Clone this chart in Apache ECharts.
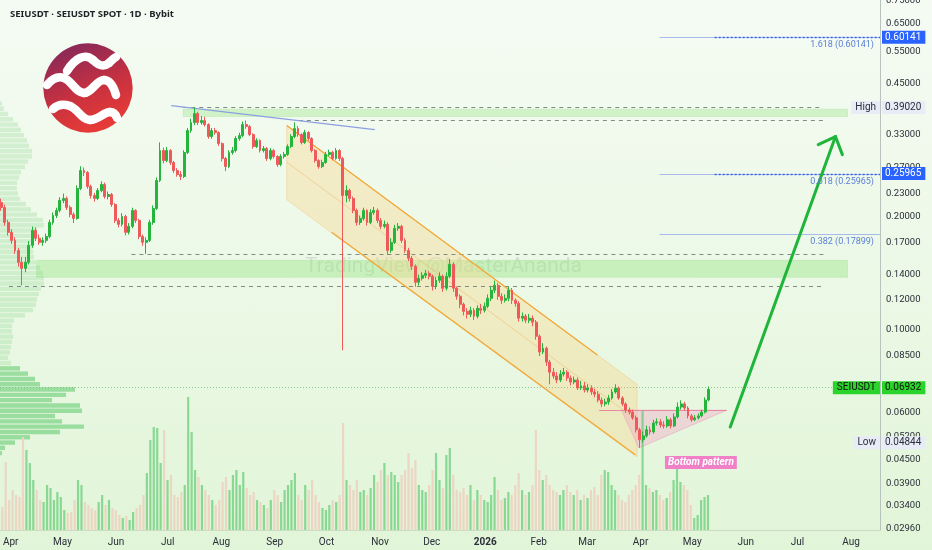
<!DOCTYPE html>
<html><head><meta charset="utf-8">
<script src="https://cdn.jsdelivr.net/npm/echarts@6/dist/echarts.min.js"></script>
<style>
html,body{margin:0;padding:0;}
#c{width:932px;height:550px;background:linear-gradient(180deg,#f5fbf3 0%,#edf9e8 45%,#e1f5d8 100%);}
</style>
</head><body><div id="c"></div>
<script>
// ---------------- DATA (2-day candles, SEIUSDT Bybit) ----------------
const FIRST_DATE = '2025-03-26';
const FIRST_OPEN = 0.2180;
const closes = [
0.2113,0.1928,0.1814,0.1727,0.1624,0.1510,0.1455,0.1510,0.1675,0.1836,
0.1749,0.1706,0.1727,0.1769,0.1928,0.2012,0.2075,0.2206,0.2233,0.2113,
0.2025,0.1976,0.2374,0.2650,0.2618,0.2403,0.2274,0.2233,0.2345,0.2433,
0.2260,0.2288,0.2152,0.1952,0.1905,0.2000,0.1814,0.1882,0.2075,0.1952,
0.1769,0.1706,0.1727,0.1928,0.2100,0.2493,0.2995,0.2817,0.2995,0.2783,
0.2650,0.2586,0.2555,0.2959,0.3385,0.3555,0.3756,0.3555,0.3599,0.3512,
0.3263,0.3385,0.3344,0.3126,0.2852,0.2715,0.2959,0.2995,0.3224,0.3283,
0.3512,0.3469,0.3303,0.3069,0.3184,0.2995,0.3031,0.2852,0.2995,0.2887,
0.2749,0.2887,0.2923,0.3069,0.3263,0.3427,0.3303,0.3146,0.3344,0.3224,
0.2995,0.2817,0.2715,0.2783,0.2923,0.2959,0.2852,0.2995,0.2852,0.2274,
0.2345,0.2233,0.2075,0.1928,0.1976,0.2075,0.1928,0.2050,0.2075,0.1952,
0.1882,0.1905,0.1624,0.1706,0.1859,0.1882,0.1727,0.1624,0.1547,0.1473,
0.1336,0.1369,0.1394,0.1411,0.1386,0.1303,0.1352,0.1386,0.1288,0.1386,
0.1491,0.1288,0.1226,0.1167,0.1118,0.1098,0.1125,0.1085,0.1139,0.1125,
0.1153,0.1211,0.1272,0.1311,0.1226,0.1196,0.1211,0.1272,0.1196,0.1174,
0.1072,0.1085,0.1059,0.1072,0.1046,0.0960,0.0871,0.0892,0.0819,0.0770,
0.0752,0.0734,0.0761,0.0770,0.0743,0.0725,0.0734,0.0699,0.0708,0.0690,
0.0699,0.0682,0.0673,0.0649,0.0634,0.0641,0.0657,0.0682,0.0699,0.0657,
0.0634,0.0611,0.0603,0.0582,0.0541,0.0509,0.0521,0.0541,0.0534,0.0564,
0.0568,0.0557,0.0554,0.0575,0.0554,0.0585,0.0622,0.0634,0.0618,0.0589,
0.0575,0.0582,0.0589,0.0603,0.0649,0.06932];
const highs = [
0.2230,0.2150,0.1960,0.1850,0.1760,0.1650,0.1560,0.1560,0.1720,0.1880,
0.1870,0.1790,0.1760,0.1800,0.1960,0.2050,0.2110,0.2250,0.2300,0.2260,
0.2140,0.2050,0.2420,0.2720,0.2700,0.2640,0.2430,0.2310,0.2380,0.2480,
0.2460,0.2330,0.2310,0.2170,0.1980,0.2040,0.2020,0.1920,0.2110,0.2090,
0.1970,0.1790,0.1760,0.1960,0.2140,0.2540,0.3150,0.3050,0.3060,0.3020,
0.2810,0.2690,0.2640,0.3000,0.3440,0.3640,0.3902,0.3800,0.3700,0.3680,
0.3540,0.3440,0.3440,0.3370,0.3150,0.2880,0.3000,0.3060,0.3270,0.3340,
0.3580,0.3600,0.3500,0.3330,0.3230,0.3210,0.3080,0.3060,0.3040,0.3020,
0.2910,0.2930,0.2970,0.3110,0.3310,0.3560,0.3480,0.3330,0.3400,0.3370,
0.3250,0.3020,0.2840,0.2830,0.2970,0.3010,0.2990,0.3040,0.3020,0.2880,
0.2420,0.2370,0.2260,0.2100,0.2010,0.2110,0.2090,0.2090,0.2120,0.2100,
0.1980,0.1950,0.1930,0.1750,0.1900,0.1920,0.1900,0.1750,0.1650,0.1570,
0.1490,0.1400,0.1420,0.1440,0.1430,0.1400,0.1380,0.1420,0.1400,0.1420,
0.1540,0.1510,0.1300,0.1240,0.1180,0.1140,0.1150,0.1140,0.1160,0.1170,
0.1180,0.1240,0.1300,0.1350,0.1330,0.1250,0.1240,0.1300,0.1290,0.1210,
0.1190,0.1110,0.1100,0.1100,0.1090,0.1060,0.0970,0.0920,0.0900,0.0830,
0.0790,0.0770,0.0780,0.0790,0.0780,0.0755,0.0750,0.0745,0.0730,0.0725,
0.0715,0.0710,0.0695,0.0685,0.0660,0.0655,0.0670,0.0695,0.0715,0.0705,
0.0665,0.0640,0.0620,0.0612,0.0590,0.0548,0.0535,0.0555,0.0552,0.0575,
0.0580,0.0578,0.0570,0.0588,0.0582,0.0598,0.0640,0.0648,0.0642,0.0625,
0.0596,0.0592,0.0598,0.0612,0.0660,0.0705];
const lows = [
0.2070,0.1890,0.1780,0.1690,0.1590,0.1470,0.1311,0.1420,0.1490,0.1650,
0.1720,0.1680,0.1670,0.1700,0.1750,0.1900,0.1980,0.2050,0.2170,0.2080,
0.1990,0.1920,0.1960,0.2350,0.2560,0.2370,0.2230,0.2190,0.2210,0.2320,
0.2230,0.2220,0.2120,0.1920,0.1870,0.1880,0.1780,0.1790,0.1860,0.1920,
0.1740,0.1670,0.1590,0.1710,0.1900,0.2080,0.2470,0.2770,0.2790,0.2740,
0.2610,0.2550,0.2500,0.2530,0.2930,0.3340,0.3500,0.3500,0.3510,0.3470,
0.3220,0.3220,0.3300,0.3080,0.2800,0.2640,0.2690,0.2920,0.2960,0.3180,
0.3250,0.3420,0.3270,0.3030,0.3040,0.2960,0.2960,0.2810,0.2820,0.2850,
0.2710,0.2720,0.2850,0.2900,0.3040,0.3230,0.3260,0.3110,0.3120,0.3180,
0.2960,0.2780,0.2680,0.2690,0.2760,0.2890,0.2820,0.2830,0.2810,0.0880,
0.2180,0.2190,0.2040,0.1890,0.1900,0.1950,0.1890,0.1910,0.2020,0.1920,
0.1850,0.1860,0.1580,0.1600,0.1690,0.1830,0.1700,0.1600,0.1520,0.1440,
0.1300,0.1310,0.1350,0.1370,0.1360,0.1270,0.1280,0.1330,0.1260,0.1270,
0.1370,0.1260,0.1200,0.1140,0.1090,0.1070,0.1080,0.1060,0.1070,0.1100,
0.1110,0.1140,0.1190,0.1250,0.1200,0.1170,0.1180,0.1190,0.1170,0.1150,
0.1050,0.1050,0.1040,0.1040,0.1020,0.0940,0.0850,0.0860,0.0800,0.0715,
0.0740,0.0720,0.0725,0.0750,0.0730,0.0710,0.0715,0.0690,0.0690,0.0680,
0.0680,0.0670,0.0660,0.0640,0.0622,0.0625,0.0630,0.0650,0.0675,0.0650,
0.0625,0.0600,0.0595,0.0575,0.0532,0.04844,0.0500,0.0515,0.0525,0.0528,
0.0555,0.0548,0.0545,0.0548,0.0545,0.0550,0.0580,0.0612,0.0608,0.0580,
0.0568,0.0570,0.0576,0.0584,0.0598,0.0644];
// relative volume per candle (read as bar heights)
const volumes = [
23,68,30,40,35,33,93,80,67,50, 40,30,28,45,42,30,38,33,20,17,
18,30,50,45,28,25,22,20,28,35, 25,30,22,20,15,12,14,10,18,22,
25,35,57,90,103,102,67,100,50,55, 35,33,38,45,133,98,60,53,45,40,
35,30,25,30,48,53,40,55,60,45, 58,42,35,38,30,28,25,22,30,40,
35,28,40,45,50,57,35,30,45,40, 50,35,28,22,20,25,30,28,35,107,
50,45,40,50,38,40,35,42,55,48, 60,67,55,58,55,48,55,60,77,62,
70,45,40,38,45,60,77,50,42,75, 82,55,40,38,42,35,45,30,40,35,
30,28,35,53,40,30,32,38,35,45, 57,40,35,38,45,100,60,50,55,45,
40,38,35,40,45,38,35,40,30,35, 32,40,43,35,55,60,58,45,40,35,
30,28,35,40,45,55,120,45,42,38, 40,35,30,32,38,50,62,48,45,40,
25,12,15,30,33,35];
// volume profile (visible range), price rows from top bin 19 downward (100 log bins)
const PROFILE_BINS = 100;
const PROFILE_FIRST_BIN = 19;
const PROFILE_VALUE_AREA_BIN = 69;
const profile = [2,4,8,13,18,21,24,27,29,32,32,28,25,21,19,17,17,18,20,26,
31,37,43,44,37,34,33,33,33,34,36,40,43,44,44,41,39,37,36,33,
25,14,12,12,13,12,11,10,8,11,20,28,35,40,75,66,52,80,82,55,
62,84,60,30,15,5,2];
const priceTicks = [0.75,0.65,0.55,0.45,0.33,0.27,0.23,0.20,0.17,0.14,0.12,0.10,0.085,0.06,0.052,0.045,0.039,0.034,0.0296];
const MONTHS = ['Jan','Feb','Mar','Apr','May','Jun','Jul','Aug','Sep','Oct','Nov','Dec'];
// annotations (date, price)
const axisTags = [
  {price:0.60141, text:'0.60141', bg:'#2962ff', fg:'#ffffff'},
  {price:0.39020, text:'0.39020', bg:'#e8ecf6', fg:'#2a2e39', side:'High', sideBg:'#e8ecf6', sideFg:'#2a2e39'},
  {price:0.25965, text:'0.25965', bg:'#2962ff', fg:'#ffffff'},
  {price:0.06932, text:'0.06932', bg:'#2bd42b', fg:'#111111', side:'SEIUSDT', sideBg:'#2bd42b', sideFg:'#111111'},
  {price:0.04844, text:'0.04844', bg:'#e8ecf6', fg:'#2a2e39', side:'Low', sideBg:'#e8ecf6', sideFg:'#2a2e39'}];
const fibLevels = [
  {ratio:'1.618', price:0.60141, from:'2026-04-12', dotFrom:'2026-05-14'},
  {ratio:'0.618', price:0.25965, from:'2026-04-12', dotFrom:'2026-05-14'},
  {ratio:'0.382', price:0.17899, from:'2026-04-12', dotFrom:null}];
const dashedLevels = [
  {price:0.3902, from:'2025-07-10', to:'2026-07-14'},
  {price:0.3599, from:'2025-09-15', to:'2026-07-16'},
  {price:0.1585, from:'2025-06-10', to:'2026-07-16'},
  {price:0.1303, from:'2025-03-31', to:'2026-07-15'}];
const zones = [
  {from:'2025-07-10', to:'2026-07-30', hi:0.386, lo:0.369},
  {from:'2025-04-16', to:'2026-07-30', hi:0.1528, lo:0.1377}];
const trendLine = [['2025-07-03',0.3945],['2025-10-29',0.3406]];
const channelUpper = [['2025-09-08',0.349],['2026-03-07',0.0855]];
const channelLower = [['2025-10-04',0.1814],['2026-03-29',0.0464]];
const channelMid = [['2025-09-08',0.2787],['2026-03-30',0.0574]];
const channelFill = [['2025-09-08',0.349],['2026-03-30',0.0715],['2026-03-30',0.0458],['2025-09-08',0.2214]];
const bottomTriangle = [['2026-03-21',0.0610],['2026-03-31',0.0484],['2026-05-21',0.0610]];
const bottomLine = [['2026-03-08',0.0610],['2026-05-21',0.0610]];
const arrowShaft = [['2026-05-23',0.0550],['2026-07-23',0.3262]];
const arrowWings = [['2026-07-13',0.3106],['2026-07-27',0.2921]];
const patternLabel = {at:['2026-05-06',0.0443], text:'Bottom pattern'};

// ---------------- BUILD ----------------
const DAY = 86400000;
const T = s => { const a = s.split('-').map(Number); return Date.UTC(a[0], a[1]-1, a[2]); };
const P = a => [T(a[0]), a[1]];
const X_MIN = T('2025-04-01') - 6.2*DAY, X_MAX = T('2025-04-01') + 503.8*DAY;
const Y_MIN = 0.02927, Y_MAX = 0.7535;
const UP = '#25b53d', DOWN = '#ee5a5a';

const times = closes.map((_, i) => T(FIRST_DATE) + (2*i + 0.5)*DAY);
const opens = closes.map((c, i) => i ? closes[i-1] : FIRST_OPEN);
const candleData = closes.map((c, i) => [times[i], opens[i], c, lows[i], highs[i]]);
const volData = volumes.map((v, i) => ({value:[times[i], v],
  itemStyle:{color: closes[i] >= opens[i] ? 'rgba(70,195,95,0.58)' : 'rgba(236,212,194,0.95)'}}));
const profileCats = Array.from({length:PROFILE_BINS}, (_, k) =>
  (Y_MAX*Math.pow(Y_MIN/Y_MAX, (k+0.5)/PROFILE_BINS)).toFixed(5));
const profileData = profileCats.map((_, k) => {
  const v = profile[k - PROFILE_FIRST_BIN];
  return {value: v || 0, itemStyle:{color: k >= PROFILE_VALUE_AREA_BIN ? 'rgba(90,200,105,0.55)' : 'rgba(125,208,128,0.26)'}};
});
const monthTicks = [];
for (let m = 0; m < 17; m++) monthTicks.push(Date.UTC(2025, 3 + m, 1));

const FONT = 'Roboto, "Liberation Sans", sans-serif';
const NOLINE = {color:'rgba(0,0,0,0)', width:0, type:'solid'};
const seg = (a, b, style, label) => [{coord:P(a), lineStyle:Object.assign({type:'solid'}, style), label: label || {show:false}}, {coord:P(b)}];

const mlData = [];
dashedLevels.forEach(d => mlData.push(seg([d.from, d.price], [d.to, d.price], {color:'#7d8c85', type:[4,4], width:1})));
mlData.push({yAxis:0.06932, lineStyle:{color:'rgba(70,160,90,0.55)', type:[1,2], width:1}, label:{show:false}});
fibLevels.forEach(f => {
  mlData.push([{coord:[T(f.from), f.price], lineStyle:{color:'#a9baec', width:1, type:'solid'},
    label:{show:true, position:'insideEndBottom', distance:[6,3], formatter:f.ratio + ' (' + f.price.toFixed(5) + ')', color:'#5a7fd6', fontSize:9, fontFamily:FONT}},
    {coord:[X_MAX, f.price]}]);
  if (f.dotFrom) mlData.push([{coord:[T(f.dotFrom), f.price], lineStyle:{color:'#2f5fe6', type:[2,2], width:1.4}, label:{show:false}}, {coord:[X_MAX, f.price]}]);
});
mlData.push(seg(trendLine[0], trendLine[1], {color:'#8d9fe2', width:1.2}));
mlData.push(seg(channelUpper[0], channelUpper[1], {color:'#f2a532', width:1.2}));
mlData.push(seg(channelLower[0], channelLower[1], {color:'#f2a532', width:1.2}));
mlData.push(seg(channelMid[0], channelMid[1], {color:'rgba(235,175,90,0.55)', width:0.8}));
mlData.push(seg(bottomLine[0], bottomLine[1], {color:'#e4899f', width:1}));
mlData.push(seg(arrowShaft[0], arrowShaft[1], {color:'#1fb53a', width:3, cap:'round'}));
arrowWings.forEach(w => mlData.push(seg(w, arrowShaft[1], {color:'#1fb53a', width:3, cap:'round'})));
axisTags.forEach(tag => {
  mlData.push({yAxis:tag.price, lineStyle:NOLINE, label:{show:true, position:'end', distance:2, formatter:tag.text,
    backgroundColor:tag.bg, color:tag.fg, padding:[2,4,1,3], fontSize:10, fontFamily:FONT}});
  if (tag.side) mlData.push({yAxis:tag.price, lineStyle:NOLINE, label:{show:true, position:'insideEnd', distance:0, formatter:tag.side,
    backgroundColor:tag.sideBg, color:tag.sideFg, padding:[2,4,1,4], fontSize:10, fontFamily:FONT}});
});

function polySeries(points, fill, stroke) {
  return {type:'custom', xAxisIndex:0, yAxisIndex:0, silent:true, z:2, clip:false, data:[P(points[0])],
    renderItem: (params, api) => ({type:'polygon', shape:{points: points.map(p => api.coord(P(p)))},
      style:{fill:fill, stroke:stroke, lineWidth:0.8}})};
}
// logo waves (decorative): cubic segments [x1,y1,cx1,cy1,cx2,cy2,x2,y2]
const logoWaves = [
  [-21,-17,-13,-30,-3,-35,5,-28], [5,-28,10,-23,15,-20,21,-25], [21,-25,24,-28,26,-30,28,-31],
  [-41,-3,-36,-9,-30,-12,-24,-10], [-24,-10,-16,-7,-12,5,-4,5], [-4,5,4,5,8,-8,16,-8], [16,-8,23,-8,26,0,28,7],
  [-35,21,-30,16,-24,16,-18,18], [-18,18,-10,21,-6,32,2,32], [2,32,10,32,16,24,22,24], [22,24,26,24,28,27,29,30]];
const waveEls = logoWaves.map(s => ({type:'bezierCurve',
  shape:{x1:s[0], y1:s[1], cpx1:s[2], cpy1:s[3], cpx2:s[4], cpy2:s[5], x2:s[6], y2:s[7]},
  style:{stroke:'#ffffff', lineWidth:8.5, fill:null, lineCap:'round'}}));

const option = {
  animation:false,
  backgroundColor:'transparent',
  textStyle:{fontFamily:FONT},
  title:{text:'SEIUSDT · SEIUSDT SPOT · 1D · Bybit', left:5, top:4,
    textStyle:{fontSize:9.5, fontWeight:'bold', color:'#1f2328', fontFamily:'"Noto Sans", sans-serif'}},
  grid:[
    {left:0, right:52, top:0, bottom:20, containLabel:false, outerBoundsMode:'none'},
    {left:0, right:52, top:380, bottom:20, containLabel:false, outerBoundsMode:'none'},
    {left:0, width:200, top:0, bottom:20, containLabel:false, outerBoundsMode:'none'}],
  xAxis:[
    {type:'time', gridIndex:0, min:X_MIN, max:X_MAX, axisLine:{show:false}, axisTick:{show:false}, splitLine:{show:false}, axisLabel:{show:false}},
    {type:'time', gridIndex:1, min:X_MIN, max:X_MAX, show:false},
    {type:'value', gridIndex:2, min:0, max:200, show:false},
    // date scale labels (same time range, on a value axis so month starts can be listed)
    {type:'value', gridIndex:0, min:X_MIN, max:X_MAX, position:'bottom',
     axisLine:{show:true, onZero:false, lineStyle:{color:'rgba(0,0,0,0.10)'}}, axisTick:{show:false}, splitLine:{show:false},
     axisLabel:{customValues:monthTicks, hideOverlap:false, color:'#2a2e39', fontSize:10, margin:7,
       formatter:v => { const d = new Date(v); return d.getUTCMonth() === 0 ? '{b|' + d.getUTCFullYear() + '}' : MONTHS[d.getUTCMonth()]; },
       rich:{b:{fontWeight:'bold', fontSize:10, color:'#2a2e39'}}}}],
  yAxis:[
    {type:'log', gridIndex:0, position:'right', min:Y_MIN, max:Y_MAX,
     axisLine:{show:true, lineStyle:{color:'#b9c3bd'}}, axisTick:{show:false}, splitLine:{show:false},
     axisLabel:{customValues:priceTicks, formatter:v => Number(v).toFixed(5), color:'#2a2e39', fontSize:9.5, margin:6, hideOverlap:false, showMaxLabel:true}},
    {type:'value', gridIndex:1, min:0, max:150, show:false},
    {type:'category', gridIndex:2, data:profileCats, inverse:true, show:false}],
  graphic:[
    {type:'group', x:88, y:88, z:1, silent:true, children:[
      {type:'circle', shape:{cx:0, cy:0, r:44.7}, style:{fill:{type:'linear', x:0.25, y:0, x2:0.65, y2:1,
        colorStops:[{offset:0, color:'#85285a'}, {offset:0.55, color:'#c8313f'}, {offset:1, color:'#ea3c36'}]}}}
    ].concat(waveEls)},
    {type:'text', left:305, top:256, z:1, silent:true,
      style:{text:'TradingView @MasterAnanda', font:'21px Roboto, sans-serif', fill:'rgba(120,135,128,0.22)'}}
  ],
  series:[
    {type:'bar', name:'profile', xAxisIndex:2, yAxisIndex:2, data:profileData, barWidth:4.4, silent:true, z:1},
    {type:'line', name:'zones', xAxisIndex:0, yAxisIndex:0, data:[], z:1, silent:true,
     markArea:{silent:true, label:{show:false},
       data: zones.map((zn, i) => [{coord:[T(zn.from), zn.hi], itemStyle:{color: i ? 'rgba(150,228,130,0.42)' : 'rgba(150,228,130,0.36)', borderColor:'rgba(120,205,110,0.35)', borderWidth:0.6}}, {coord:[T(zn.to), zn.lo]}])}},
    polySeries(channelFill, 'rgba(246,214,140,0.38)', 'rgba(240,190,110,0.5)'),
    polySeries(bottomTriangle, 'rgba(245,160,200,0.38)', 'rgba(232,140,175,0.5)'),
    {type:'bar', name:'volume', xAxisIndex:1, yAxisIndex:1, data:volData, barWidth:2.2, silent:true, z:2},
    {type:'candlestick', name:'SEIUSDT', xAxisIndex:0, yAxisIndex:0, data:candleData, encode:{x:0, y:[1,2,3,4]},
     barWidth:2.4, z:5, silent:true,
     itemStyle:{color:UP, color0:DOWN, borderColor:UP, borderColor0:DOWN, borderWidth:1}},
    {type:'line', name:'drawings', xAxisIndex:0, yAxisIndex:0, data:[], z:6, clip:false, silent:true,
     markLine:{silent:true, symbol:['none','none'], animation:false, label:{show:false}, data:mlData},
     markPoint:{silent:true, data:[{coord:P(patternLabel.at), symbol:'rect', symbolSize:[1,1], itemStyle:{color:'rgba(0,0,0,0)'},
       label:{show:true, position:'inside', formatter:patternLabel.text, backgroundColor:'#f081c8', color:'#ffffff',
         fontWeight:'bold', fontStyle:'italic', fontSize:10, padding:[2,3,1,3], fontFamily:FONT}}]}}
  ]
};
const chart = echarts.init(document.getElementById('c'));
chart.setOption(option);
</script>
</body></html>
